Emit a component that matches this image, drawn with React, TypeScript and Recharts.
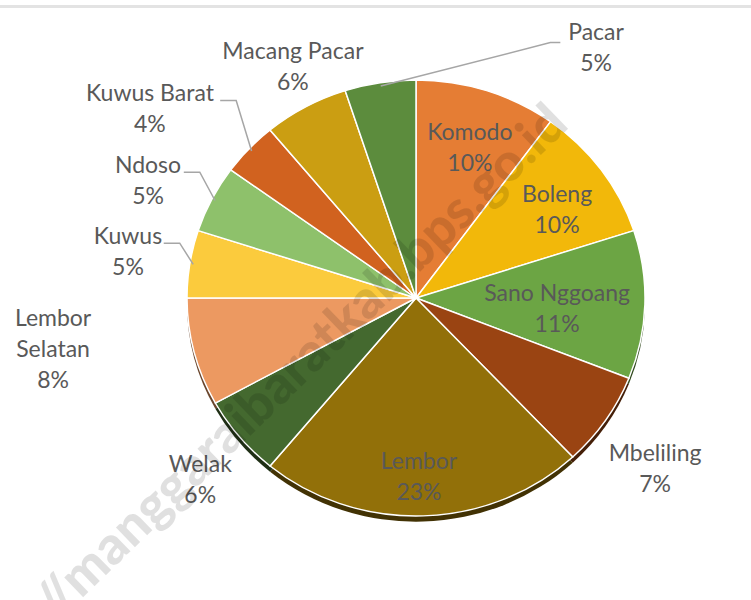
import React from 'react';
import { PieChart, Pie, Cell } from 'recharts';

const categories = ['Komodo', 'Boleng', 'Sano Nggoang', 'Mbeliling', 'Lembor', 'Welak', 'Lembor Selatan', 'Kuwus', 'Ndoso', 'Kuwus Barat', 'Macang Pacar', 'Pacar'];
const shares = [10, 10, 11, 7, 23, 6, 8, 5, 5, 4, 6, 5];
const sliceColors = ['#E57D34', '#F2B80A', '#6CA544', '#9A4412', '#927009', '#44692F', '#EC9961', '#FBCB3D', '#8EC16B', '#D1621F', '#CB9E12', '#5C8C3D'];

// label placement: radius factor (x outerRadius) and angular shift (deg, clockwise)
const labelRadius = [0.73, 0.737, 0.618, 1.304, 0.821, 1.256, 1.602, 1.276, 1.289, 1.451, 1.192, 1.392];
const labelShift = [0.8, 2.7, 2.5, 2.6, 0.9, -1.8, 6.0, 0.7, -2.2, -6.4, 2.0, 43.4];
const leaderSide = ['', '', '', '', '', '', '', 'left', 'left', 'left', '', 'right'];

const data = categories.map((name, i) => ({ name, value: shares[i] }));

const FONT = 'Lato, "Noto Sans", sans-serif';
const FS = 23;
const LH = 31;
const TEXT = '#595959';
const CX = 416;
const CY = 298;
const R = 229;
const KY = 0.952; // vertical squash of the tilted pie

function darken(hex: string, f: number) {
  const n = parseInt(hex.slice(1), 16);
  const r = Math.round(((n >> 16) & 255) * f);
  const g = Math.round(((n >> 8) & 255) * f);
  const b = Math.round((n & 255) * f);
  return `rgb(${r},${g},${b})`;
}

function wrapName(name: string): string[] {
  if (name.length > 12) return name.split(' ');
  return [name];
}

function renderLabel(props: any) {
  const { cx, cy, midAngle, outerRadius, index, percent, name } = props;
  const compassMid = 90 - midAngle;
  const compass = compassMid + labelShift[index];
  const rad = (compass * Math.PI) / 180;
  const rr = outerRadius * labelRadius[index];
  const x = cx + rr * Math.sin(rad);
  const y = cy - rr * KY * Math.cos(rad);
  const lines = [...wrapName(name), `${Math.round(percent * 100)}%`];
  const y0 = y - ((lines.length - 1) * LH) / 2 - 1;
  const longest = Math.max(...lines.map((l) => l.length));
  const half = (longest * FS * 0.5) / 2;
  let leader: React.ReactNode = null;
  const side = leaderSide[index];
  if (side) {
    const mr = (compassMid * Math.PI) / 180;
    const sx = cx + outerRadius * 0.985 * Math.sin(mr);
    const sy = cy - outerRadius * 0.985 * KY * Math.cos(mr);
    let ex: number, ey: number, bx: number;
    if (side === 'right') {
      ex = x - half - 7;
      ey = y - 5;
      bx = ex - 10;
    } else {
      ex = x + half + 7;
      ey = y - 8;
      bx = ex + 16;
    }
    leader = (
      <polyline
        points={`${sx},${sy} ${bx},${ey} ${ex},${ey}`}
        fill="none"
        stroke="#A6A6A6"
        strokeWidth={1.5}
      />
    );
  }
  return (
    <g key={`lbl-${index}`}>
      {leader}
      <text
        x={x}
        y={y0}
        textAnchor="middle"
        dominantBaseline="central"
        fill={TEXT}
        fontFamily={FONT}
        fontSize={FS}
      >
        {lines.map((l, i) => (
          <tspan key={i} x={x} y={y0 + i * LH}>
            {l}
          </tspan>
        ))}
      </text>
    </g>
  );
}

export default function App() {
  return (
    <div className="tilted" style={{ position: 'absolute', left: 0, top: 0, width: 751, height: 600, background: '#fff', overflow: 'hidden' }}>
      <style>{`.tilted .recharts-pie-sector { transform-origin: ${CX}px ${CY}px; transform: scaleY(${KY}); }`}</style>
      <div style={{ position: 'absolute', left: 0, top: 5, width: 751, height: 3, background: '#E3E3E3' }} />
      <PieChart width={751} height={600} margin={{ top: 0, right: 0, bottom: 0, left: 0 }}>
        <Pie
          data={data}
          dataKey="value"
          nameKey="name"
          cx={CX}
          cy={CY + 6}
          outerRadius={R}
          startAngle={90}
          endAngle={-270}
          stroke="none"
          isAnimationActive={false}
          label={false}
          labelLine={false}
        >
          {data.map((d, i) => (
            <Cell key={`s-${i}`} fill={darken(sliceColors[i], 0.45)} />
          ))}
        </Pie>
        <Pie
          data={data}
          dataKey="value"
          nameKey="name"
          cx={CX}
          cy={CY}
          outerRadius={R}
          startAngle={90}
          endAngle={-270}
          stroke="#FFFFFF"
          strokeWidth={1.5}
          isAnimationActive={false}
          label={renderLabel}
          labelLine={false}
        >
          {data.map((d, i) => (
            <Cell key={`c-${i}`} fill={sliceColors[i]} />
          ))}
        </Pie>
      </PieChart>
      <svg width={751} height={600} style={{ position: 'absolute', left: 0, top: 0, pointerEvents: 'none' }}>
        <text
          x={556}
          y={112}
          textAnchor="end"
          dominantBaseline="central"
          transform="rotate(-44 556 112)"
          fontFamily={FONT}
          fontWeight={900}
          fontSize={53}
          fill="#000"
          fillOpacity={0.12}
        >
          https://manggaraibaratkab.bps.go.id
        </text>
      </svg>
    </div>
  );
}
